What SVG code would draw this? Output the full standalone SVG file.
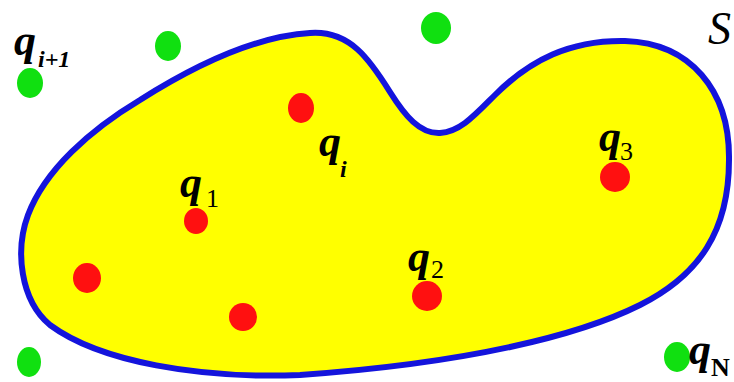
<svg xmlns="http://www.w3.org/2000/svg" width="734" height="382" viewBox="0 0 734 382">
<style>
.in{fill:#ff1010}
.out{fill:#10e010}
.q{font-family:"Liberation Serif",serif;font-weight:bold;font-style:italic;font-size:44px;fill:#000}
.sub{font-family:"Liberation Serif",serif;font-size:26px;fill:#000}
.subi{font-family:"Liberation Serif",serif;font-weight:bold;font-style:italic;font-size:24px;fill:#000}
</style>
<rect width="734" height="382" fill="#fff"/>
<g id="set-S">
<path d="M310,33 C350,30 370,60 390,92 C405,116 420,134 440,133 C460,132 475,115 495,95 C530,60 570,40 625,41 C690,43 730,90 729,160 C729,230 700,275 640,305 C580,335 470,363 300,375 C200,379 100,362 50,325 C20,300 15,250 28,215 C45,170 90,130 140,100 C200,62 260,36 310,33 Z" fill="#ffff00" stroke="#1414dc" stroke-width="6"/>
<text x="708" y="44" font-family="Liberation Serif,serif" font-style="italic" font-size="46" fill="#000">S</text>
</g>
<g id="q1"><ellipse class="in" cx="196" cy="221" rx="12" ry="13"/><text class="q" x="180" y="197">q</text><text class="sub" x="206" y="207">1</text></g>
<g id="q2"><ellipse class="in" cx="427" cy="296" rx="15" ry="15"/><text class="q" x="408" y="271">q</text><text class="sub" x="431" y="278">2</text></g>
<g id="q3"><ellipse class="in" cx="615" cy="177" rx="15" ry="15"/><text class="q" x="599" y="151">q</text><text class="sub" x="620" y="160">3</text></g>
<g id="qi"><ellipse class="in" cx="301" cy="108" rx="13" ry="15"/><text class="q" x="319" y="156">q</text><text class="subi" x="340" y="177">i</text></g>
<g id="p5"><ellipse class="in" cx="87" cy="278" rx="14" ry="15"/></g>
<g id="p6"><ellipse class="in" cx="243" cy="317" rx="14" ry="14"/></g>
<g id="qi1"><ellipse class="out" cx="30" cy="83" rx="13" ry="15"/><text class="q" x="14" y="55" font-size="46">q</text><text class="subi" x="38" y="67" font-size="22">i+1</text></g>
<g id="o2"><ellipse class="out" cx="168" cy="46" rx="13" ry="15"/></g>
<g id="o3"><ellipse class="out" cx="436" cy="28" rx="15" ry="16"/></g>
<g id="o4"><ellipse class="out" cx="29" cy="362" rx="12" ry="15"/></g>
<g id="qN"><ellipse class="out" cx="677" cy="357" rx="13" ry="15"/><text class="q" x="689" y="364" font-size="44">q</text><text class="sub" x="711" y="376" font-weight="bold" font-size="24">N</text></g>
<g id="connectors"/>
</svg>
